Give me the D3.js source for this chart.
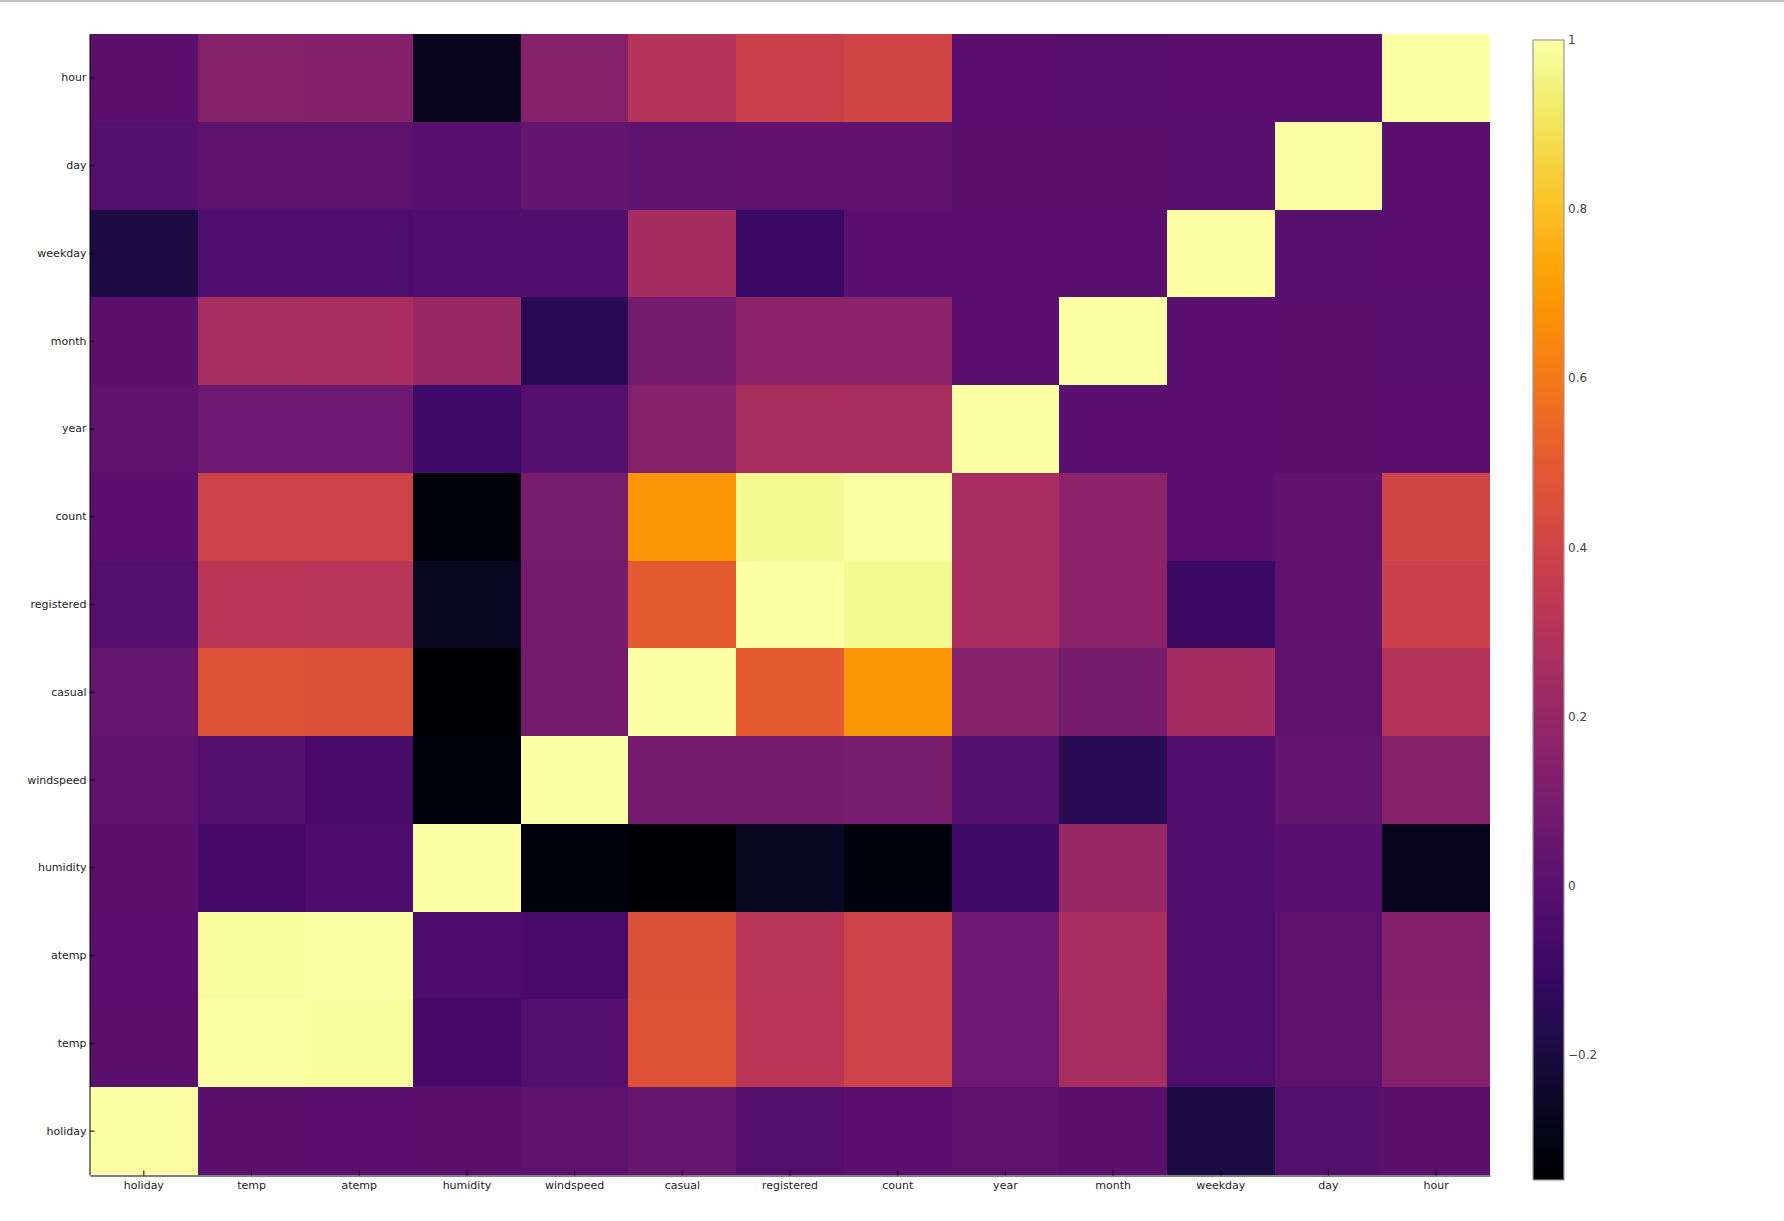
<!DOCTYPE html>
<html>
<head>
<meta charset="utf-8">
<script src="https://cdn.jsdelivr.net/npm/d3@7"></script>
<style>
  body { margin: 0; background: #fff; }
  .axis text { font-family: "DejaVu Sans", sans-serif; font-size: 11px; fill: #222; }
  .axis path, .axis line { stroke: #000; }
  .cbar text { font-family: "DejaVu Sans", sans-serif; font-size: 12px; fill: #444; }
</style>
</head>
<body>
<div id="chart"></div>
<script>
// variable names, left to right / bottom to top
var vars = ["holiday", "temp", "atemp", "humidity", "windspeed", "casual",
            "registered", "count", "year", "month", "weekday", "day", "hour"];

// correlation rows (same order as vars)
var holidayRow    = [1, 0.000, -0.005, 0.002, 0.008, 0.044, -0.021, -0.005, 0.012, 0.001, -0.191, -0.015, -0.000];
var tempRow       = [0.000, 1, 0.985, -0.065, -0.018, 0.467, 0.319, 0.394, 0.061, 0.257, -0.040, 0.015, 0.146];
var atempRow      = [-0.005, 0.985, 1, -0.044, -0.057, 0.462, 0.315, 0.390, 0.058, 0.264, -0.040, 0.012, 0.140];
var humidityRow   = [0.002, -0.065, -0.044, 1, -0.319, -0.348, -0.265, -0.317, -0.078, 0.205, -0.030, -0.011, -0.278];
var windspeedRow  = [0.008, -0.018, -0.057, -0.319, 1, 0.092, 0.091, 0.101, -0.015, -0.150, -0.030, 0.036, 0.146];
var casualRow     = [0.044, 0.467, 0.462, -0.348, 0.092, 1, 0.497, 0.690, 0.145, 0.092, 0.250, 0.014, 0.302];
var registeredRow = [-0.021, 0.319, 0.315, -0.265, 0.091, 0.497, 1, 0.971, 0.264, 0.169, -0.105, 0.019, 0.380];
var countRow      = [-0.005, 0.394, 0.390, -0.317, 0.101, 0.690, 0.971, 1, 0.260, 0.167, -0.002, 0.019, 0.401];
var yearRow       = [0.012, 0.061, 0.058, -0.078, -0.015, 0.145, 0.264, 0.260, 1, -0.004, -0.003, 0.002, -0.004];
var monthRow      = [0.001, 0.257, 0.264, 0.205, -0.150, 0.092, 0.169, 0.167, -0.004, 1, -0.002, 0.001, -0.006];
var weekdayRow    = [-0.191, -0.040, -0.040, -0.030, -0.030, 0.250, -0.105, -0.002, -0.003, -0.002, 1, -0.011, -0.002];
var dayRow        = [-0.015, 0.015, 0.012, -0.011, 0.036, 0.014, 0.019, 0.019, 0.002, 0.001, -0.011, 1, -0.001];
var hourRow       = [-0.000, 0.146, 0.140, -0.278, 0.146, 0.302, 0.380, 0.401, -0.004, -0.006, -0.002, -0.001, 1];

// colorbar ticks
var cbarTicks = [1, 0.8, 0.6, 0.4, 0.2, 0, -0.2];

var rows = [holidayRow, tempRow, atempRow, humidityRow, windspeedRow, casualRow,
            registeredRow, countRow, yearRow, monthRow, weekdayRow, dayRow, hourRow];

var cells = [];
rows.forEach(function(r, i) {
  r.forEach(function(v, j) {
    cells.push({row: vars[i], col: vars[j], value: v});
  });
});

var W = 1784, H = 1221;
var plot = {left: 90, top: 34, right: 1490, bottom: 1175};

var svg = d3.select("#chart").append("svg")
    .attr("width", W)
    .attr("height", H);

// thin gray line across the top
svg.append("rect")
   .attr("x", 0).attr("y", 0)
   .attr("width", W).attr("height", 2)
   .attr("fill", "#c4c4c4");

var xScale = d3.scaleBand().domain(vars).range([plot.left, plot.right]).padding(0);
var yScale = d3.scaleBand().domain(vars).range([plot.bottom, plot.top]).padding(0);

var vmin = d3.min(cells, function(d) { return d.value; }),
    vmax = d3.max(cells, function(d) { return d.value; });

var color = d3.scaleSequential(d3.interpolateInferno).domain([vmin, vmax]);

svg.append("g")
   .attr("shape-rendering", "crispEdges")
   .selectAll("rect")
   .data(cells)
   .enter()
   .append("rect")
   .attr("x", function(d) { return Math.round(xScale(d.col)); })
   .attr("y", function(d) { return Math.round(yScale(d.row)); })
   .attr("width", function(d) { return Math.round(xScale(d.col) + xScale.bandwidth()) - Math.round(xScale(d.col)); })
   .attr("height", function(d) { return Math.round(yScale(d.row) + yScale.bandwidth()) - Math.round(yScale(d.row)); })
   .attr("fill", function(d) { return color(d.value); });

// axes, ticks pointing inward
svg.append("g")
   .attr("class", "axis")
   .attr("transform", "translate(" + (plot.left - 0.5) + ",0)")
   .call(d3.axisLeft(yScale).tickSizeInner(-5).tickSizeOuter(0).tickPadding(3));

svg.append("g")
   .attr("class", "axis")
   .attr("transform", "translate(0," + (plot.bottom + 0.5) + ")")
   .call(d3.axisBottom(xScale).tickSizeInner(-5).tickSizeOuter(0).tickPadding(6));

// colorbar
var cbX = 1533, cbW = 31, cbTop = 40, cbBottom = 1180;
var cScale = d3.scaleLinear().domain([vmin, vmax]).range([cbBottom, cbTop]);

var grad = svg.append("defs").append("linearGradient")
    .attr("id", "cbgrad")
    .attr("x1", "0%").attr("y1", "100%")
    .attr("x2", "0%").attr("y2", "0%");

grad.selectAll("stop")
    .data(d3.range(0, 1.0001, 0.02))
    .enter().append("stop")
    .attr("offset", function(t) { return (t * 100) + "%"; })
    .attr("stop-color", function(t) { return d3.interpolateInferno(t); });

svg.append("rect")
   .attr("x", cbX).attr("y", cbTop)
   .attr("width", cbW).attr("height", cbBottom - cbTop)
   .attr("fill", "url(#cbgrad)")
   .attr("stroke", "#999")
   .attr("stroke-width", 1.2);

var cb = svg.append("g").attr("class", "cbar");
cb.selectAll("text")
  .data(cbarTicks)
  .enter()
  .append("text")
  .attr("x", cbX + cbW + 4)
  .attr("y", function(d) { return cScale(d); })
  .attr("dy", "0.35em")
  .text(function(d) { return d < 0 ? "\u2212" + Math.abs(d) : d; });
</script>
</body>
</html>
